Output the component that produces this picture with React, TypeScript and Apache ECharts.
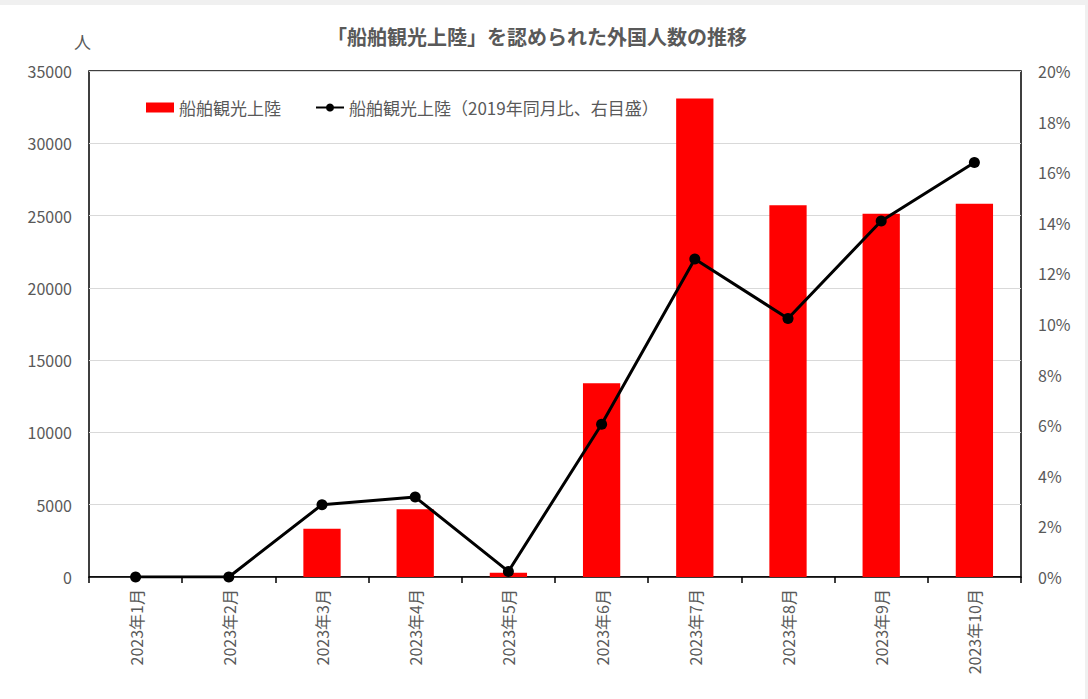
import React, { useEffect, useRef } from "react";
import * as echarts from "echarts";

const categories = [
  "2023年1月", "2023年2月", "2023年3月", "2023年4月", "2023年5月",
  "2023年6月", "2023年7月", "2023年8月", "2023年9月", "2023年10月",
];
const landings = [0, 0, 3340, 4680, 290, 13400, 33090, 25720, 25120, 25810];
const ratioPct = [0, 0, 2.86, 3.16, 0.22, 6.04, 12.57, 10.22, 14.07, 16.38];
const barName = "船舶観光上陸";
const lineName = "船舶観光上陸（2019年同月比、右目盛）";
const titleText = "「船舶観光上陸」を認められた外国人数の推移";

const FONT = "'Noto Sans CJK JP', 'Noto Sans', sans-serif";
const GRAY = "#595959";

export default function App() {
  const ref = useRef<HTMLDivElement>(null);
  useEffect(() => {
    if (!ref.current) return;
    const chart = echarts.init(ref.current, null, { renderer: "svg" });
    chart.setOption({
      animation: false,
      backgroundColor: "#ffffff",
      textStyle: { fontFamily: FONT },
      title: {
        text: titleText,
        left: 322,
        top: 16,
        textStyle: { fontFamily: FONT, fontSize: 20, fontWeight: "bold", color: GRAY },
      },
      graphic: [
        {
          type: "text",
          left: 74,
          top: 28,
          style: { text: "人", fontFamily: FONT, fontSize: 17, fill: GRAY },
        },
      ],
      legend: {
        left: 141,
        top: 89,
        itemWidth: 28,
        itemHeight: 10,
        itemGap: 34,
        textStyle: { fontFamily: FONT, fontSize: 17, color: GRAY },
        data: [
          { name: barName, icon: "rect" },
          { name: lineName },
        ],
      },
      grid: {
        left: 89,
        top: 66,
        right: 64,
        bottom: 122,
        show: true,
        borderColor: "#000",
        borderWidth: 1.5,
        backgroundColor: "transparent",
      },
      xAxis: {
        type: "category",
        data: categories,
        boundaryGap: true,
        axisLine: { lineStyle: { color: "#000", width: 1.5 } },
        axisTick: { show: true, length: 6, lineStyle: { color: "#000", width: 1.5 } },
        axisLabel: {
          rotate: 90,
          interval: 0,
          margin: 12,
          fontFamily: FONT,
          fontSize: 16,
          color: GRAY,
        },
      },
      yAxis: [
        {
          type: "value",
          min: 0,
          max: 35000,
          interval: 5000,
          axisLine: { show: false },
          axisTick: { show: false },
          axisLabel: {
            fontFamily: FONT,
            fontSize: 16,
            color: GRAY,
            margin: 17,
            formatter: (v: number) => String(v),
          },
          splitLine: { lineStyle: { color: "#d9d9d9", width: 1 } },
        },
        {
          type: "value",
          min: 0,
          max: 20,
          interval: 2,
          position: "right",
          axisLine: { show: false },
          axisTick: { show: false },
          axisLabel: { fontFamily: FONT, fontSize: 16, color: GRAY, margin: 17, formatter: "{value}%" },
          splitLine: { show: false },
        },
      ],
      series: [
        {
          name: barName,
          type: "bar",
          data: landings,
          barWidth: "40%",
          itemStyle: { color: "#ff0000" },
          yAxisIndex: 0,
        },
        {
          name: lineName,
          type: "line",
          data: ratioPct,
          yAxisIndex: 1,
          symbol: "circle",
          symbolSize: 11,
          lineStyle: { color: "#000", width: 3 },
          itemStyle: { color: "#000" },
        },
      ],
    });
    return () => chart.dispose();
  }, []);
  return (
    <div style={{ position: "fixed", left: 0, top: 0, width: 1088, height: 699, background: "#f0f0f0" }}>
      <div
        ref={ref}
        style={{ position: "absolute", left: 0, top: 5, width: 1085, height: 694 }}
      />
    </div>
  );
}
